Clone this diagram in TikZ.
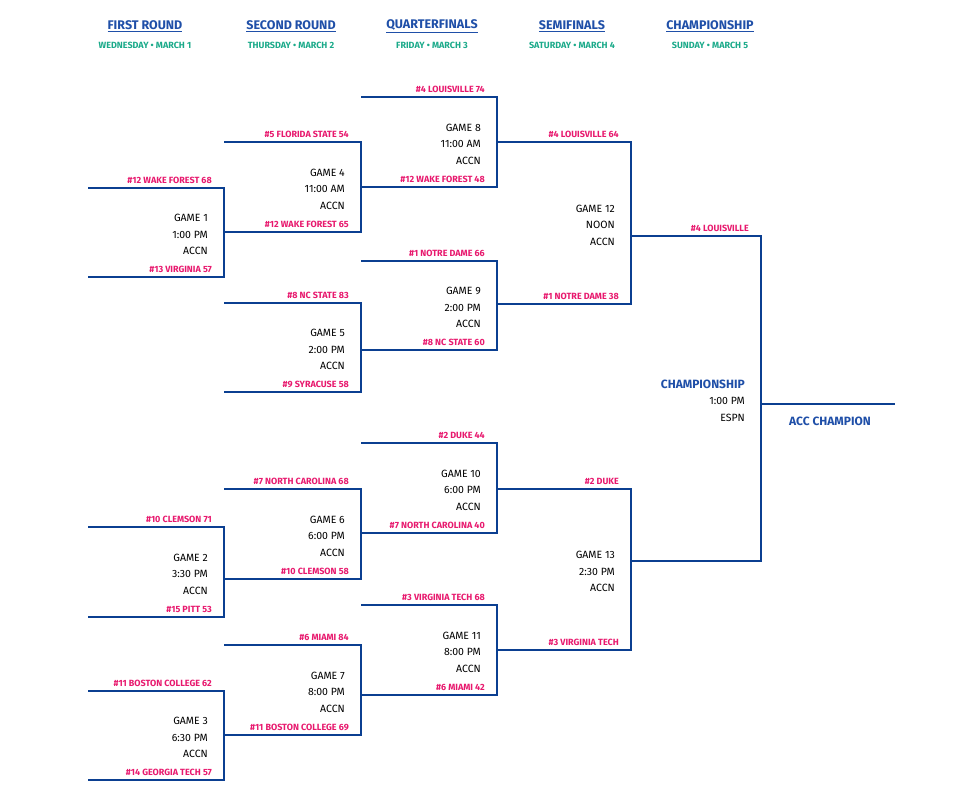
\documentclass[tikz,border=0pt]{standalone}
\usepackage{fontspec}
\setmainfont{Fira Sans}
\usetikzlibrary{calc, positioning}
\definecolor{accblue}{HTML}{0B3F91}
\definecolor{headblue}{HTML}{1F4FA8}
\definecolor{teampink}{HTML}{E8196E}
\definecolor{dayteal}{HTML}{1BAA8A}
\tikzset{
  bracket/.style={draw=accblue, line width=2pt},
  team/.style={text=teampink, font=\fontsize{9}{10}\selectfont\bfseries, inner sep=0pt, anchor=south east},
  gametext/.style={align=right, font=\fontsize{10.5}{16.5}\selectfont, inner sep=0pt, anchor=east},
  round/.style={text=headblue, font=\fontsize{12.5}{14}\selectfont\bfseries, inner sep=0pt},
  day/.style={text=dayteal, font=\fontsize{9}{10}\selectfont\bfseries, inner sep=0pt}
}
% name, x0, x1, ytop, ybot, top team, bottom team, game text
\newcommand\gamebracket[8]{%
  \coordinate (#1-tl) at (#2,#4); \coordinate (#1-tr) at (#3,#4);
  \coordinate (#1-bl) at (#2,#5); \coordinate (#1-br) at (#3,#5);
  \draw[bracket] (#1-tl) -- (#1-tr) -- (#1-br) -- (#1-bl);
  \node[team] (#1-top) at ($(#1-tr)+(-12,-4)$) {#6};
  \node[team] (#1-bot) at ($(#1-br)+(-12,-4)$) {#7};
  \node[gametext] (#1) at ($(#1-tr)!0.5!(#1-br)+(-16,2)$) {#8};
}
\begin{document}
\begin{tikzpicture}[x=1pt, y=-1pt]
  \useasboundingbox[fill=white] (0,0) rectangle (973,808);
  % Headers
  \node[round] (h1) at (145,26) {\underline{FIRST ROUND}};
  \node[round] (h2) at (291,26) {\underline{SECOND ROUND}};
  \node[round] (h3) at (432,26) {\underline{QUARTERFINALS}};
  \node[round] (h4) at (572,26) {\underline{SEMIFINALS}};
  \node[round] (h5) at (710,26) {\underline{CHAMPIONSHIP}};
  \node[day] (d1) at (145,45) {WEDNESDAY • MARCH 1};
  \node[day] (d2) at (291,45) {THURSDAY • MARCH 2};
  \node[day] (d3) at (432,45) {FRIDAY • MARCH 3};
  \node[day] (d4) at (572,45) {SATURDAY • MARCH 4};
  \node[day] (d5) at (710,45) {SUNDAY • MARCH 5};
  % First round
  \gamebracket{g1}{88}{224}{188}{277}{\#12 WAKE FOREST 68}{\#13 VIRGINIA 57}{GAME 1\\1:00 PM\\ACCN}
  \gamebracket{g2}{88}{224}{527}{617}{\#10 CLEMSON 71}{\#15 PITT 53}{GAME 2\\3:30 PM\\ACCN}
  \gamebracket{g3}{88}{224}{691}{780}{\#11 BOSTON COLLEGE 62}{\#14 GEORGIA TECH 57}{GAME 3\\6:30 PM\\ACCN}
  % Second round
  \gamebracket{g4}{224}{361}{142}{232}{\#5 FLORIDA STATE 54}{\#12 WAKE FOREST 65}{GAME 4\\11:00 AM\\ACCN}
  \gamebracket{g5}{224}{361}{303}{392}{\#8 NC STATE 83}{\#9 SYRACUSE 58}{GAME 5\\2:00 PM\\ACCN}
  \gamebracket{g6}{224}{361}{489}{579}{\#7 NORTH CAROLINA 68}{\#10 CLEMSON 58}{GAME 6\\6:00 PM\\ACCN}
  \gamebracket{g7}{224}{361}{645}{735}{\#6 MIAMI 84}{\#11 BOSTON COLLEGE 69}{GAME 7\\8:00 PM\\ACCN}
  % Quarterfinals
  \gamebracket{g8}{361}{497}{97}{187}{\#4 LOUISVILLE 74}{\#12 WAKE FOREST 48}{GAME 8\\11:00 AM\\ACCN}
  \gamebracket{g9}{361}{497}{261}{350}{\#1 NOTRE DAME 66}{\#8 NC STATE 60}{GAME 9\\2:00 PM\\ACCN}
  \gamebracket{g10}{361}{497}{443}{533}{\#2 DUKE 44}{\#7 NORTH CAROLINA 40}{GAME 10\\6:00 PM\\ACCN}
  \gamebracket{g11}{361}{497}{605}{695}{\#3 VIRGINIA TECH 68}{\#6 MIAMI 42}{GAME 11\\8:00 PM\\ACCN}
  % Semifinals
  \gamebracket{g12}{497}{631}{142}{304}{\#4 LOUISVILLE 64}{\#1 NOTRE DAME 38}{GAME 12\\NOON\\ACCN}
  \gamebracket{g13}{497}{631}{489}{650}{\#2 DUKE}{\#3 VIRGINIA TECH}{GAME 13\\2:30 PM\\ACCN}
  % Championship
  \gamebracket{g14}{631}{761}{236}{561}{\#4 LOUISVILLE}{}{{\color{headblue}\fontsize{12}{16.5}\selectfont\bfseries CHAMPIONSHIP}\\1:00 PM\\ESPN}
  \coordinate (champ-end) at (895,404);
  \draw[bracket] (g14-tr |- champ-end) -- (champ-end);
  \node[round, font=\fontsize{12}{14}\selectfont\bfseries] (champ) at (830,421) {ACC CHAMPION};
\end{tikzpicture}
\end{document}
